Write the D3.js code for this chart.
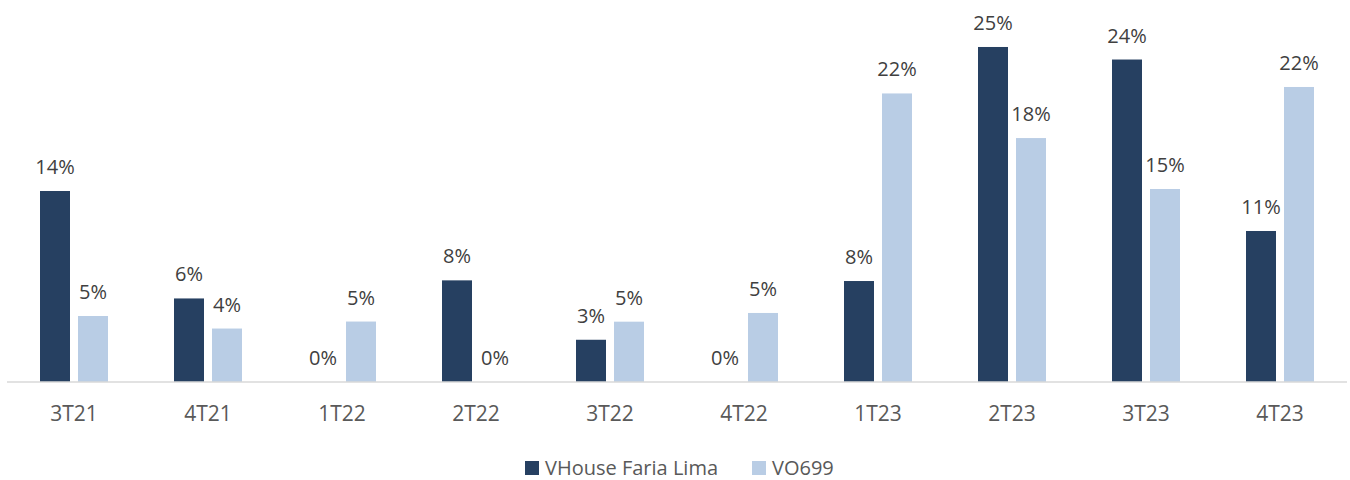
<!DOCTYPE html>
<html>
<head>
<meta charset="utf-8">
<script src="https://cdn.jsdelivr.net/npm/d3@7"></script>
<style>
  html, body { margin: 0; padding: 0; background: #fff; }
  svg { display: block; font-family: "Open Sans", sans-serif; }
</style>
</head>
<body>
<svg id="chart" width="1350" height="480"></svg>
<script>
const categories = ["3T21", "4T21", "1T22", "2T22", "3T22", "4T22", "1T23", "2T23", "3T23", "4T23"];
const seriesNames = ["VHouse Faria Lima", "VO699"];
const vhouse = [14.47, 6.33, 0, 7.7, 3.2, 0, 7.65, 25.38, 24.43, 11.44];
const vo699 = [5.0, 4.05, 4.58, 0, 4.57, 5.23, 21.86, 18.48, 14.62, 22.35];
const colors = ["#264061", "#B9CDE5"];

const svg = d3.select("#chart");
const baseY = 382;
const left = 7, right = 1347;

const pIn = 1 - 68 / 134;
const x0 = d3.scaleBand().domain(categories).range([left, right])
  .paddingInner(pIn).paddingOuter(pIn / 2);
const x1 = d3.scaleBand().domain(seriesNames).range([0, x0.bandwidth()])
  .paddingInner(8 / 38).paddingOuter(0);
const y = d3.scaleLinear().domain([0, 26]).range([baseY, baseY - 26 * 13.2]);
const color = d3.scaleOrdinal().domain(seriesNames).range(colors);

const rows = categories.map((c, i) => ({
  cat: c,
  vals: [
    { name: seriesNames[0], v: vhouse[i] },
    { name: seriesNames[1], v: vo699[i] }
  ]
}));

const g = svg.selectAll("g.cat").data(rows).join("g")
  .attr("class", "cat")
  .attr("transform", d => `translate(${x0(d.cat)},0)`);

g.selectAll("rect").data(d => d.vals).join("rect")
  .attr("x", d => x1(d.name))
  .attr("width", x1.bandwidth())
  .attr("y", d => y(d.v))
  .attr("height", d => y(0) - y(d.v))
  .attr("fill", d => color(d.name));

g.selectAll("text.lbl").data(d => d.vals).join("text")
  .attr("class", "lbl")
  .attr("x", d => x1(d.name) + x1.bandwidth() / 2)
  .attr("y", d => y(d.v) - 17)
  .attr("text-anchor", "middle")
  .attr("font-size", 20)
  .attr("fill", "#404040")
  .text(d => Math.round(d.v) + "%");

// axis
const xAxis = d3.axisBottom(x0).tickSize(0).tickPadding(0);
const ax = svg.append("g").attr("transform", `translate(0,${baseY})`).call(xAxis);
ax.select(".domain").attr("stroke", "#D9D9D9").attr("stroke-width", 1.5)
  .attr("d", `M${left},0H${right}`);
ax.selectAll(".tick text")
  .attr("font-family", "Open Sans, sans-serif")
  .attr("font-size", 21)
  .attr("fill", "#595959")
  .attr("dy", null)
  .attr("y", 39);

// legend
const legendX = [525, 752];
const leg = svg.selectAll("g.leg").data(seriesNames).join("g")
  .attr("class", "leg")
  .attr("transform", (d, i) => `translate(${legendX[i]},461)`);
leg.append("rect").attr("width", 14).attr("height", 14).attr("fill", d => color(d));
leg.append("text").attr("x", 20).attr("y", 14)
  .attr("font-size", 20).attr("fill", "#595959").text(d => d);
</script>
</body>
</html>
